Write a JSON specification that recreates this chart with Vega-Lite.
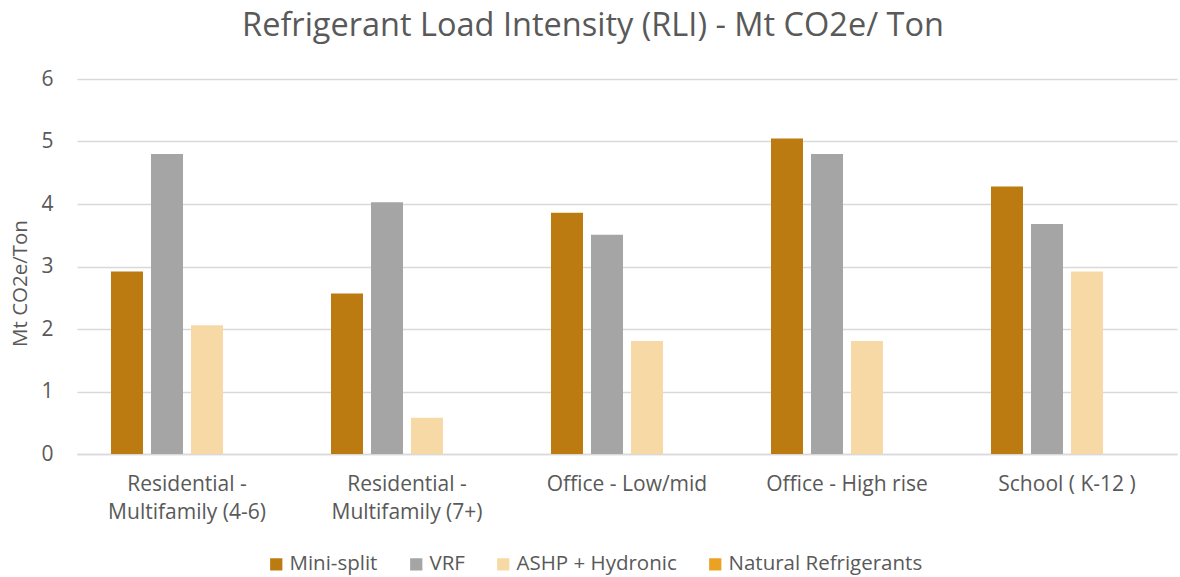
{
  "$schema": "https://vega.github.io/schema/vega-lite/v6.json",
  "autosize": {"type": "none"},
  "width": 1100,
  "height": 375,
  "padding": {"left": 77, "top": 79, "right": 3, "bottom": 123},
  "background": "#ffffff",
  "title": {
    "text": "Refrigerant Load Intensity (RLI) - Mt CO2e/ Ton",
    "font": "Open Sans",
    "fontSize": 32.5,
    "fontWeight": "normal",
    "color": "#595959",
    "anchor": "middle",
    "baseline": "alphabetic",
    "offset": 0,
    "dx": -34
  },
  "data": {
    "values": [
      {"category": "Residential - Multifamily (4-6)", "series": "Mini-split", "value": 2.92},
      {"category": "Residential - Multifamily (4-6)", "series": "VRF", "value": 4.8},
      {"category": "Residential - Multifamily (4-6)", "series": "ASHP + Hydronic", "value": 2.06},
      {"category": "Residential - Multifamily (4-6)", "series": "Natural Refrigerants", "value": 0},
      {"category": "Residential - Multifamily (7+)", "series": "Mini-split", "value": 2.57},
      {"category": "Residential - Multifamily (7+)", "series": "VRF", "value": 4.03},
      {"category": "Residential - Multifamily (7+)", "series": "ASHP + Hydronic", "value": 0.58},
      {"category": "Residential - Multifamily (7+)", "series": "Natural Refrigerants", "value": 0},
      {"category": "Office - Low/mid", "series": "Mini-split", "value": 3.86},
      {"category": "Office - Low/mid", "series": "VRF", "value": 3.51},
      {"category": "Office - Low/mid", "series": "ASHP + Hydronic", "value": 1.81},
      {"category": "Office - Low/mid", "series": "Natural Refrigerants", "value": 0},
      {"category": "Office - High rise", "series": "Mini-split", "value": 5.05},
      {"category": "Office - High rise", "series": "VRF", "value": 4.8},
      {"category": "Office - High rise", "series": "ASHP + Hydronic", "value": 1.81},
      {"category": "Office - High rise", "series": "Natural Refrigerants", "value": 0},
      {"category": "School ( K-12 )", "series": "Mini-split", "value": 4.28},
      {"category": "School ( K-12 )", "series": "VRF", "value": 3.68},
      {"category": "School ( K-12 )", "series": "ASHP + Hydronic", "value": 2.92},
      {"category": "School ( K-12 )", "series": "Natural Refrigerants", "value": 0}
    ]
  },
  "mark": {"type": "bar"},
  "encoding": {
    "x": {
      "field": "category",
      "type": "nominal",
      "sort": null,
      "title": null,
      "scale": {"paddingInner": 0.309, "paddingOuter": 0.1545},
      "axis": {
        "domainColor": "#D9D9D9",
        "domainWidth": 1.5,
        "ticks": false,
        "labelAngle": 0,
        "labelFont": "Open Sans",
        "labelFontSize": 21,
        "labelColor": "#595959",
        "labelPadding": 19,
        "labelLineHeight": 28,
        "labelLimit": 300,
        "labelExpr": "substring(datum.value, 0, 11) == 'Residential' ? ['Residential -', substring(datum.value, 14)] : datum.value"
      }
    },
    "xOffset": {
      "field": "series",
      "type": "nominal",
      "sort": ["Mini-split", "VRF", "ASHP + Hydronic", "Natural Refrigerants"],
      "scale": {"paddingInner": 0.2, "paddingOuter": 0}
    },
    "y": {
      "field": "value",
      "type": "quantitative",
      "scale": {"domain": [0, 6]},
      "title": "Mt CO2e/Ton",
      "axis": {
        "values": [0, 1, 2, 3, 4, 5, 6],
        "domain": false,
        "ticks": false,
        "gridColor": "#D9D9D9",
        "gridWidth": 1.5,
        "labelFont": "Open Sans",
        "labelFontSize": 21,
        "labelColor": "#595959",
        "labelPadding": 24,
        "titleFont": "Open Sans",
        "titleFontSize": 20.5,
        "titleFontWeight": "normal",
        "titleColor": "#595959",
        "titleX": -57,
        "titleY": 204,
        "titleAngle": -90,
        "titleAlign": "center",
        "titleBaseline": "middle"
      }
    },
    "color": {
      "field": "series",
      "type": "nominal",
      "sort": ["Mini-split", "VRF", "ASHP + Hydronic", "Natural Refrigerants"],
      "scale": {
        "domain": ["Mini-split", "VRF", "ASHP + Hydronic", "Natural Refrigerants"],
        "range": ["#BC7B10", "#A5A5A5", "#F7D9A6", "#EBA224"]
      },
      "legend": {
        "title": null,
        "orient": "none",
        "direction": "horizontal",
        "legendX": 189,
        "legendY": 475,
        "symbolType": "square",
        "symbolSize": 150,
        "symbolStrokeWidth": 0,
        "labelFont": "Open Sans",
        "labelFontSize": 20.5,
        "labelColor": "#595959",
        "labelLimit": 400,
        "columnPadding": 28,
        "labelOffset": 3
      }
    }
  },
  "config": {
    "view": {"stroke": null}
  }
}
